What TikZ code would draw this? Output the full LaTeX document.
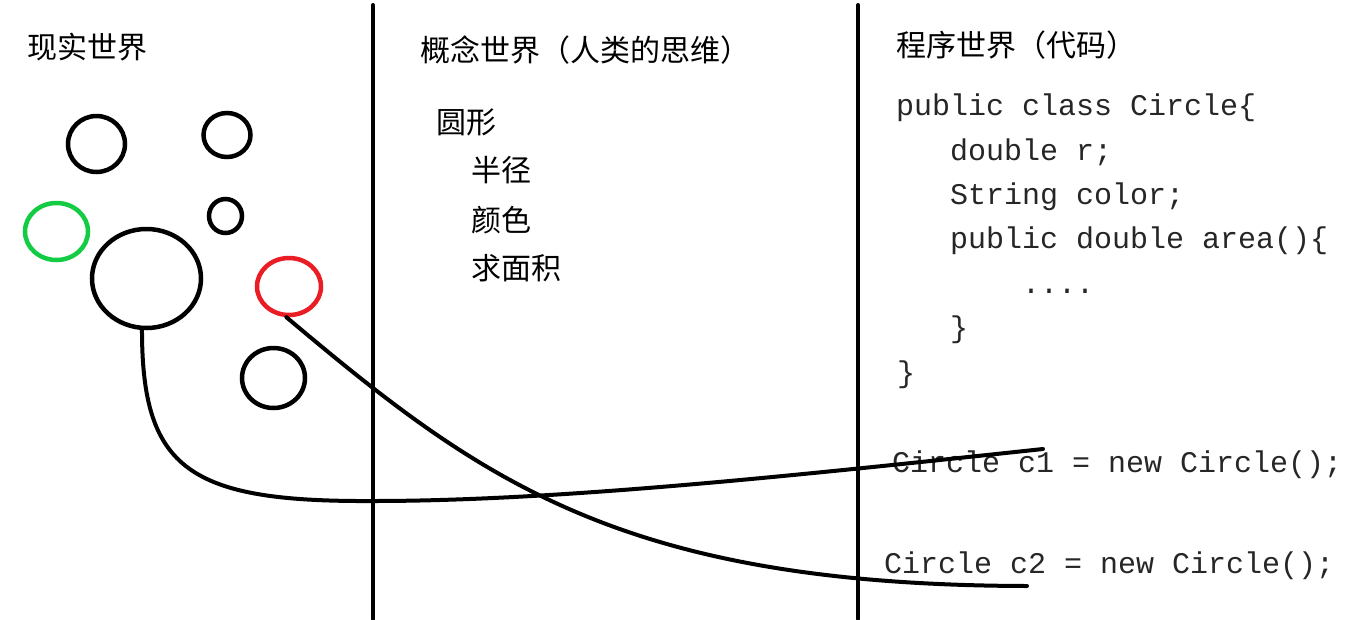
\documentclass[tikz,border=0pt]{standalone}
\usepackage{fontspec}
\setmonofont{Liberation Mono}
\newfontfamily\cjk{Noto Sans CJK SC}
\usetikzlibrary{shapes.geometric}
\definecolor{ballgreen}{RGB}{20,204,68}
\definecolor{ballred}{RGB}{234,28,36}

\begin{document}
\begin{tikzpicture}[x=1pt, y=-1pt,
  ball/.style={ellipse, draw, line width=4.5pt, inner sep=0pt},
  heading/.style={anchor=west, inner sep=0pt, font=\cjk\fontsize{30}{35}\selectfont},
  code/.style={anchor=base west, inner sep=0pt,
               font=\ttfamily\fontsize{30}{35}\selectfont, text=black!85},
  wire/.style={line width=4pt, line cap=round},
  divider/.style={line width=4pt, line cap=round}
]
  \useasboundingbox (0,0) rectangle (1350,619);

  % the three worlds
  \draw[divider] (373,5) -- (373,619);
  \draw[divider] (858,5) -- (858,619);

  \node[heading] (real) at (27,47) {现实世界};
  \node[heading] (concept) at (420,50) {概念世界（人类的思维）};
  \node[heading] (program) at (896,45) {程序世界（代码）};

  % real world: circles
  \node[ball, minimum width=57pt, minimum height=56pt] (b1) at (96.5,144) {};
  \node[ball, minimum width=47pt, minimum height=44pt] (b2) at (227,135) {};
  \node[ball, minimum width=33pt, minimum height=34pt] (b3) at (225.5,216) {};
  \node[ball, draw=ballgreen, minimum width=63pt, minimum height=57pt] (green) at (56.5,231.5) {};
  \node[ball, minimum width=109pt, minimum height=99pt] (big) at (146.5,278.5) {};
  \node[ball, draw=ballred, minimum width=64pt, minimum height=57pt] (red) at (289,286.5) {};
  \node[ball, minimum width=63pt, minimum height=60pt] (b4) at (273.5,378) {};

  % concept world
  \node[heading] (shape) at (436,122) {圆形};
  \node[heading] (radius) at (471,170) {半径};
  \node[heading] (colour) at (471,220) {颜色};
  \node[heading] (area) at (471,268) {求面积};

  % program world
  \node[code] (l1) at (896,115) {public class Circle\{};
  \node[code] (l2) at (950,160) {double r;};
  \node[code] (l3) at (950,204) {String color;};
  \node[code] (l4) at (950,248) {public double area()\{};
  \node[code] (l5) at (1022,293) {....};
  \node[code] (l6) at (950,337) {\}};
  \node[code] (l7) at (897,382) {\}};
  \node[code] (c1) at (892,472) {Circle c1 = new Circle();};
  \node[code] (c2) at (884,573) {Circle c2 = new Circle();};

  \coordinate (c1end) at (1043,449);
  \coordinate (c2end) at (1027,586);

  % objects to instances
  \draw[wire] (big.265) .. controls (142,470) and (190,502) .. (373,501)
              .. controls (560,501) and (800,475) .. (c1end);
  \draw[wire] (red.265) .. controls (480,480) and (620,585) .. (c2end);
\end{tikzpicture}
\end{document}
